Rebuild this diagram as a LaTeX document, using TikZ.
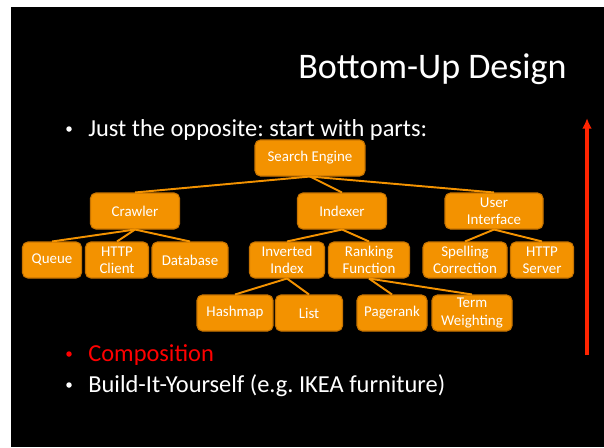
\documentclass[tikz,border=0pt]{standalone}
\usepackage{fontspec}
\setmainfont{Carlito}
\usepackage{xcolor}
\usepackage{tikz}
\usetikzlibrary{arrows.meta}
\definecolor{boxfill}{HTML}{F39200}
\definecolor{boxline}{HTML}{C87400}
\definecolor{arrowred}{HTML}{FF2400}
\definecolor{compred}{HTML}{FF0000}
\frenchspacing
\tikzset{
  part/.style={draw=boxline, line width=0.6pt, fill=boxfill, rounded corners=3pt,
    minimum height=0.72cm, inner sep=1pt, align=center, text=white,
    font=\fontsize{8.5}{9.9}\selectfont},
  link/.style={draw=boxfill, line width=1.1pt},
  point/.style={inner sep=0pt, anchor=base west, font=\fontsize{13.9}{16}\selectfont},
  dot/.style={circle, inner sep=0pt, minimum size=0.11cm}
}

\begin{document}
\begin{tikzpicture}[x=0.02cm, y=-0.02cm]
        \fill[white] (0, 0) rectangle (604, 447);
        \fill[black] (11, 7) rectangle (604, 447);

        \node[inner sep=0pt, anchor=base east, text=white, font=\fontsize{20.5}{24}\selectfont] (title) at (567, 78) {Bottom-Up Design};
        \node[point, text=white] (b1) at (88, 136) {Just the opposite: start with parts:};
        \node[point, text=compred] (b2) at (88, 361) {Composition};
        \node[point, text=white] (b3) at (88, 392) {Build-It-Yourself (e.g. IKEA furniture)};
        \node[dot, fill=white] (d1) at (69, 129) {};
        \node[dot, fill=compred] (d2) at (69, 354) {};
        \node[dot, fill=white] (d3) at (69, 385) {};

        \node[part, minimum width=2.2cm] (engine) at (310, 158) {Search Engine};

        \node[part, minimum width=1.78cm] (crawler) at (135, 211) {Crawler};
        \node[part, minimum width=1.78cm] (indexer) at (342, 211) {Indexer};
        \node[part, minimum width=1.96cm] (ui) at (494, 211) {User\\Interface};

        \node[part, minimum width=1.18cm] (queue) at (52, 260) {Queue};
        \node[part, minimum width=1.26cm] (client) at (117, 260) {HTTP\\Client};
        \node[part, minimum width=1.52cm] (database) at (190, 260) {Database};
        \node[part, minimum width=1.5cm] (inverted) at (287, 260) {Inverted\\Index};
        \node[part, minimum width=1.62cm] (ranking) at (369, 260) {Ranking\\Function};
        \node[part, minimum width=1.68cm] (spelling) at (465, 260) {Spelling\\Correction};
        \node[part, minimum width=1.26cm] (server) at (542, 260) {HTTP\\Server};

        \node[part, minimum width=1.52cm] (hashmap) at (235, 313) {Hashmap};
        \node[part, minimum width=1.34cm] (list) at (309, 313) {List};
        \node[part, minimum width=1.4cm] (pagerank) at (392, 313) {Pagerank};
        \node[part, minimum width=1.6cm] (term) at (472, 313) {Term\\Weighting};

        \foreach \p/\c in {engine/crawler, engine/indexer, engine/ui,
                           crawler/queue, crawler/client, crawler/database,
                           indexer/inverted, indexer/ranking,
                           ui/spelling, ui/server,
                           inverted/hashmap, inverted/list,
                           ranking/pagerank, ranking/term}
          \draw[link] (\p.south) -- (\c.north);

        \coordinate (up0) at (587, 355);
        \coordinate (up1) at (587, 118);
        \draw[arrowred, line width=2pt, -{Latex[length=6pt, width=5.5pt]}] (up0) -- (up1);
    \end{tikzpicture}
\end{document}
